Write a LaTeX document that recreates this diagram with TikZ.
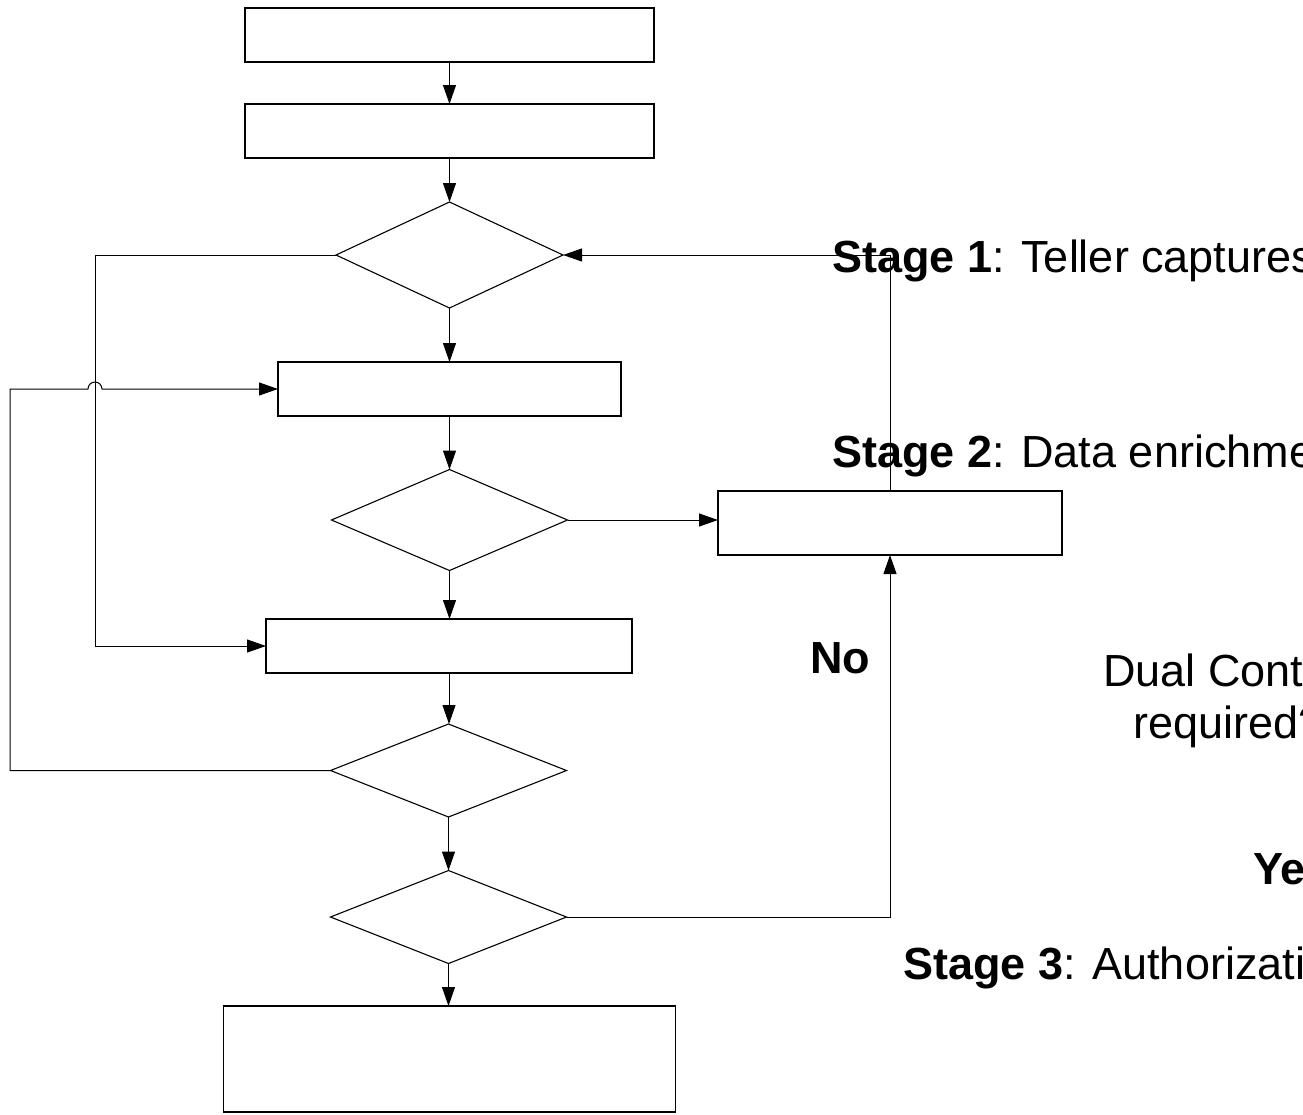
\documentclass[tikz,border=0pt]{standalone}
\usepackage{fontspec}
\setmainfont{Liberation Sans}
\usetikzlibrary{shapes.geometric,arrows.meta,calc}
\begin{document}
\begin{tikzpicture}[x=1pt,y=-1pt,
  procbox/.style={draw=black,line width=1.1pt,rectangle,inner sep=0pt,outer sep=0pt},
  decbox/.style={draw=black,line width=1.1pt,diamond,inner sep=0pt,outer sep=0pt},
  conn/.style={draw=black,line width=1pt},
  arr/.style={conn,-{Triangle[length=19pt,width=13pt]}},
  lbl/.style={anchor=base west,inner sep=0pt,font=\fontsize{45}{51}\selectfont}]
\useasboundingbox (0,0) rectangle (1303,1114);
% process boxes and decisions
\node[procbox,minimum width=409pt,minimum height=54pt] (b1) at (449.5,35) {};
\node[procbox,minimum width=409pt,minimum height=54pt] (b2) at (449.5,131) {};
\node[decbox,minimum width=227pt,minimum height=106pt] (d1) at (449.5,255) {};
\node[procbox,minimum width=343pt,minimum height=54pt] (b3) at (449.5,389) {};
\node[decbox,minimum width=236pt,minimum height=101pt] (d2) at (449.5,520) {};
\node[procbox,minimum width=344pt,minimum height=64pt] (rb) at (890,523) {};
\node[procbox,minimum width=366pt,minimum height=54pt] (b4) at (449,646) {};
\node[decbox,minimum width=236pt,minimum height=93pt] (d3) at (448.5,770.5) {};
\node[decbox,minimum width=236pt,minimum height=93pt] (d4) at (448.5,917) {};
\node[procbox,minimum width=452pt,minimum height=106pt] (b5) at (449.5,1059) {};
% guide coordinates for the loop-back lines
\coordinate (lx1) at (95,0);
\coordinate (lx2) at (10,0);
% main flow
\draw[arr] (b1.south) -- (b2.north);
\draw[arr] (b2.south) -- (d1.north);
\draw[arr] (d1.south) -- (b3.north);
\draw[arr] (b3.south) -- (d2.north);
\draw[arr] (d2.south) -- (d2.south |- b4.north);
\draw[arr] (b4.south) -- (b4.south |- d3.north);
\draw[arr] (d3.south) -- (d4.north);
\draw[arr] (d4.south) -- (d4.south |- b5.north);
% side connectors
\draw[arr] (d1.west) -- (d1.west -| lx1) |- (b4.west);
\draw[arr] (d3.west) -- (d3.west -| lx2) -- (b3.west -| lx2)
  -- ($(b3.west -| lx1)+(-7,0)$) arc[start angle=180,end angle=0,radius=7pt]
  -- (b3.west);
\draw[arr] (d2.east) -- (d2.east -| rb.west);
\draw[arr] (rb.north) |- (d1.east);
\draw[arr] (d4.east) -| (rb.south);
% labels
\node[lbl] (t1) at (832,272) {\textbf{Stage 1}: Teller captures};
\node[lbl] (t2) at (832,467) {\textbf{Stage 2}: Data enrichme};
\node[lbl] (tno) at (810,673) {\textbf{No}};
\node[lbl] (t3) at (1103,686) {Dual Cont};
\node[lbl] (t4) at (1133,738) {required?};
\node[lbl] (tye) at (1253,884) {\textbf{Ye}};
\node[lbl] (t5) at (903,979) {\textbf{Stage 3}: Authorizati};
\end{tikzpicture}
\end{document}
